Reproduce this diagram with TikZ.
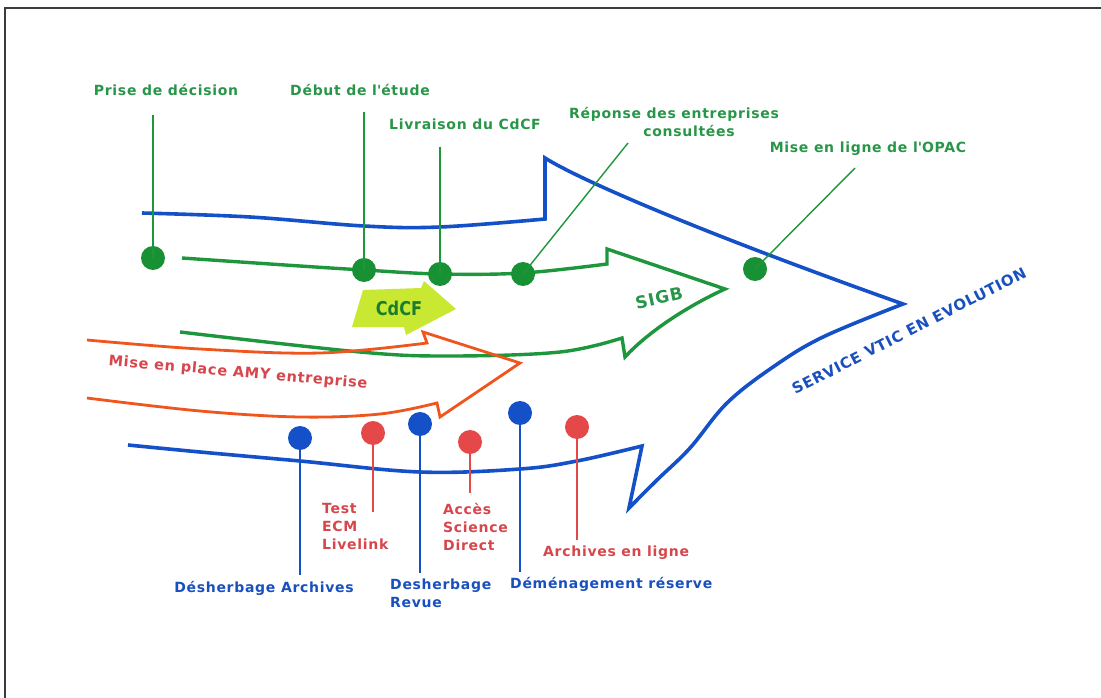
\documentclass[tikz,border=0pt]{standalone}
\usepackage{fontspec}
\setmainfont{DejaVu Sans}[LetterSpace=5]
\newfontfamily\cdfont{DejaVu Sans}[FakeStretch=0.85]
\definecolor{tgreen}{RGB}{40,150,72}
\definecolor{lgreen}{RGB}{30,150,60}
\definecolor{dgreen}{RGB}{24,145,52}
\definecolor{vblue}{RGB}{20,80,200}
\definecolor{tblue}{RGB}{25,80,190}
\definecolor{vred}{RGB}{228,72,72}
\definecolor{tred}{RGB}{215,70,75}
\definecolor{vorange}{RGB}{240,85,30}
\definecolor{lime}{RGB}{200,232,50}
\definecolor{cdgreen}{RGB}{25,125,45}
\definecolor{framec}{RGB}{60,60,60}
\tikzset{
  lab/.style={font=\bfseries\fontsize{14}{18}\selectfont, inner sep=0pt},
  glab/.style={lab, text=tgreen},
  rlab/.style={lab, text=tred},
  blab/.style={lab, text=tblue},
  dotnode/.style={circle, inner sep=0pt, minimum size=24pt},
  gdot/.style={dotnode, fill=dgreen},
  bdot/.style={dotnode, fill=vblue},
  rdot/.style={dotnode, fill=vred},
  gleader/.style={draw=lgreen, line width=1.4pt},
  bleader/.style={draw=vblue, line width=2.6pt},
  rleader/.style={draw=vred, line width=2.4pt},
  barrow/.style={draw=vblue, line width=3.6pt, line join=miter, miter limit=20},
  garrow/.style={draw=lgreen, line width=3.4pt, line join=miter, miter limit=20},
  oarrow/.style={draw=vorange, line width=2.8pt, line join=miter, miter limit=20},
  framestyle/.style={draw=framec, line width=2pt},
}
\begin{document}
\begin{tikzpicture}[x=1pt,y=-1pt]
\useasboundingbox (0,0) rectangle (1101,698);
\fill[white] (0,0) rectangle (1101,698);
\draw[framestyle] (5,698) -- (5,8.5) -- (1101,8.5);

% CdCF arrow
\fill[lime] (363,290) -- (421,288) -- (424,281) -- (456,309) -- (406,335) -- (404,327) -- (352,327) -- cycle;
\node[font=\cdfont\bfseries\fontsize{19}{22}\selectfont, text=cdgreen, inner sep=0pt] (cdcf) at (399,308) {CdCF};

% big blue arrow
\draw[barrow] plot[smooth,tension=.6] coordinates {(142,213) (250,217) (364,226) (440,227) (545,219)}
  -- (545,158) .. controls (580,180) and (700,232) .. (903,304)
  -- plot[smooth,tension=.6] coordinates {(903,304) (823,337) (773,367) (727,403) (690,448) (657,480) (629,508)}
  -- (642,446)
  -- plot[smooth,tension=.6] coordinates {(642,446) (577,461) (520,469) (420,472) (300,461) (200,452) (128,445)};

% green SIGB arrow
\draw[garrow] plot[smooth,tension=.6] coordinates {(182,258) (300,266) (364,270) (440,274) (523,273) (607,264)}
  -- (607,249) -- (725,289) .. controls (690,305) and (650,330) .. (625,357) -- (622,338)
  -- plot[smooth,tension=.6] coordinates {(622,338) (560,352) (450,356) (360,352) (180,332)};

% orange arrow
\draw[oarrow] plot[smooth,tension=.6] coordinates {(87,340) (200,349) (320,353) (427,343)}
  -- (423,332) -- (520,363) -- (440,417) -- (437,403)
  -- plot[smooth,tension=.6] coordinates {(437,403) (380,414) (300,417) (200,411) (87,398)};

% green milestones
\node[gdot] (g1) at (153,258) {};
\node[gdot] (g2) at (364,270) {};
\node[gdot] (g3) at (440,274) {};
\node[gdot] (g4) at (523,274) {};
\node[gdot] (g5) at (755,269) {};
\coordinate (gt1) at (153,115);
\coordinate (gt2) at (364,112);
\coordinate (gt3) at (440,147);
\coordinate (gt4) at (628,143);
\coordinate (gt5) at (855,168);
\draw[gleader] (gt1) -- (g1.center);
\draw[gleader] (gt2) -- (g2.center);
\draw[gleader] (gt3) -- (g3.center);
\draw[gleader] (gt4) -- (g4.center);
\draw[gleader] (gt5) -- (g5.center);

\node[glab, anchor=base] (n1) at (166,96) {Prise de décision};
\node[glab, anchor=base] (n2) at (360,96) {Début de l\textquotesingle étude};
\node[glab, anchor=base] (n3) at (465,130) {Livraison du CdCF};
\node[glab, anchor=north, align=center] (n4) at (674,107) {Réponse des entreprises\\\hspace*{30pt}consultées};
\node[glab, anchor=base] (n5) at (868,153) {Mise en ligne de l\textquotesingle OPAC};

% lower milestones
\node[bdot] (b1) at (300,438) {};
\node[rdot] (r1) at (373,433) {};
\node[bdot] (b2) at (420,424) {};
\node[rdot] (r2) at (470,442) {};
\node[bdot] (b3) at (520,413) {};
\node[rdot] (r3) at (577,427) {};
\coordinate (bb1) at (300,575);
\coordinate (rb1) at (373,512);
\coordinate (bb2) at (420,573);
\coordinate (rb2) at (470,493);
\coordinate (bb3) at (520,572);
\coordinate (rb3) at (577,540);
\draw[bleader] (b1.center) -- (bb1);
\draw[rleader] (r1.center) -- (rb1);
\draw[bleader] (b2.center) -- (bb2);
\draw[rleader] (r2.center) -- (rb2);
\draw[bleader] (b3.center) -- (bb3);
\draw[rleader] (r3.center) -- (rb3);

\node[rlab, anchor=north west, align=left] (t1) at (322,503.5) {Test\\ECM\\Livelink};
\node[rlab, anchor=north west, align=left] (t2) at (443,503) {Accès\\Science\\Direct};
\node[rlab, anchor=base west] (t3) at (543,556) {Archives en ligne};
\node[blab, anchor=base] (u1) at (264,592) {Désherbage Archives};
\node[blab, anchor=north west, align=left] (u2) at (390,578.5) {Desherbage\\Revue};
\node[blab, anchor=base west] (u3) at (510,588) {Déménagement réserve};

% arrow labels
\node[rlab, rotate=-5, font=\bfseries\fontsize{14.5}{18}\selectfont] (amy) at (238,373) {Mise en place AMY entreprise};
\node[glab, rotate=12, font=\bfseries\fontsize{17}{20}\selectfont] (sigb) at (659,298) {SIGB};
\node[blab, rotate=27, font=\bfseries\fontsize{15}{18}\selectfont] (svc) at (909,331) {SERVICE VTIC EN EVOLUTION};
\end{tikzpicture}
\end{document}
